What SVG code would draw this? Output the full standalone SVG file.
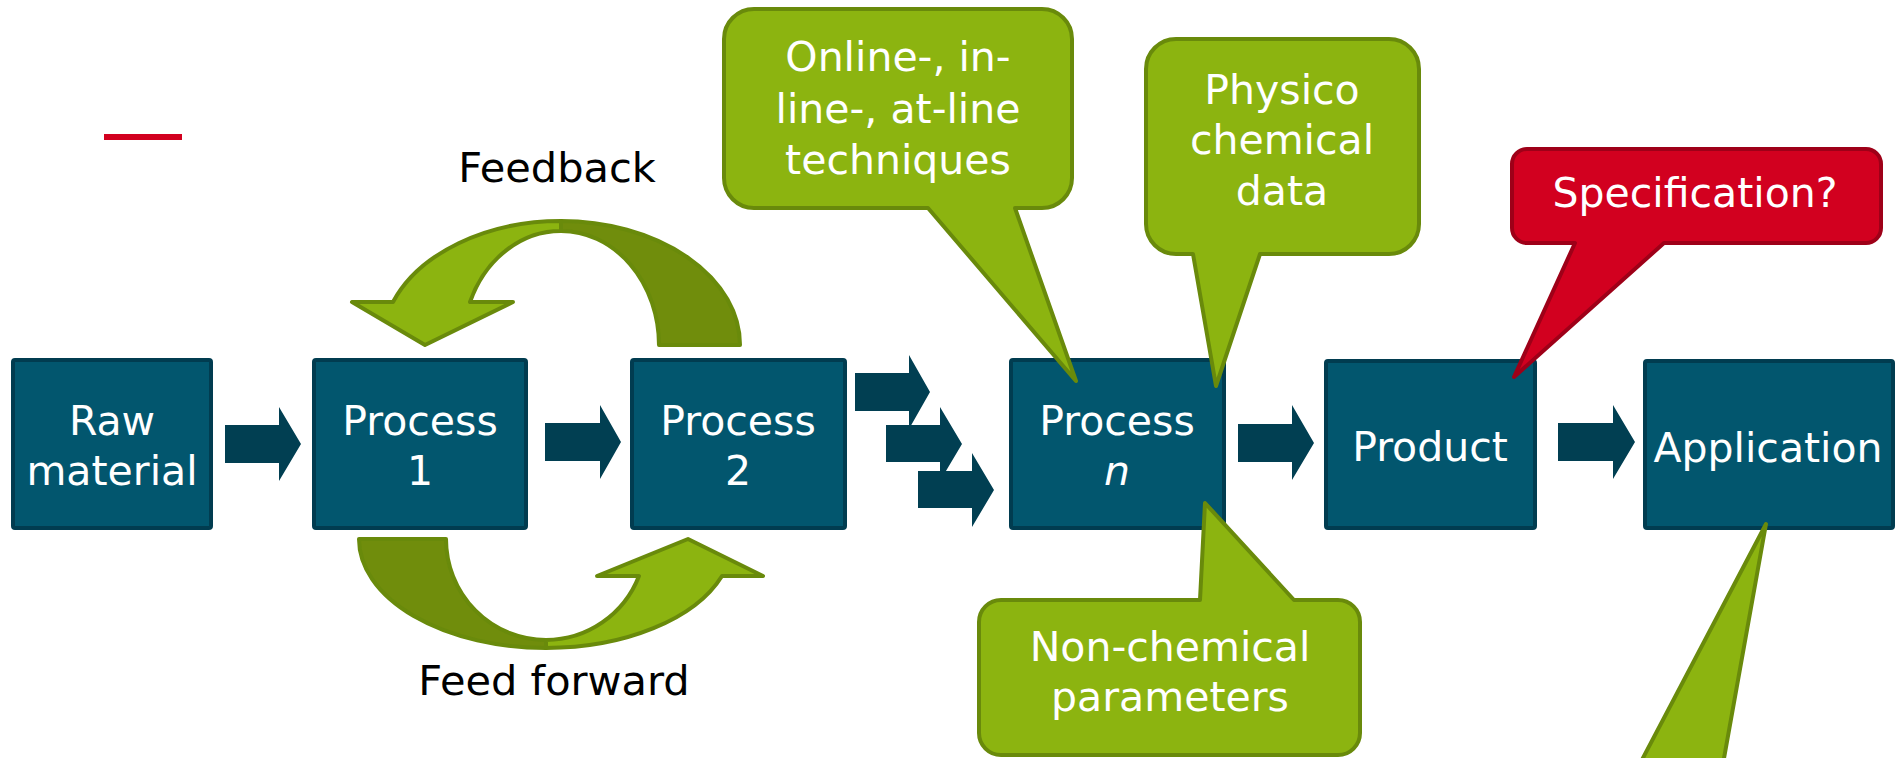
<svg xmlns="http://www.w3.org/2000/svg" width="1901" height="758" viewBox="0 0 1901 758">
<style>
.box{fill:#02566e;stroke:#013c50;stroke-width:4}
.bt{font-family:"DejaVu Sans",Verdana,sans-serif;font-size:41px;fill:#ffffff;text-anchor:middle}
.lt{font-family:"DejaVu Sans",Verdana,sans-serif;font-size:41.5px;fill:#000000;text-anchor:middle}
.arr{fill:#013f52}
.gl{fill:#8cb410;stroke:#698a0b;stroke-width:4;stroke-linejoin:round}
.gd{fill:#708d0c;stroke:#698a0b;stroke-width:4;stroke-linejoin:round}
.rd{fill:#d2001f;stroke:#9e0018;stroke-width:4;stroke-linejoin:round}
</style>
<rect x="104" y="134" width="78" height="6" fill="#d2001f"/>

<g id="connectors">
<polygon class="arr" points="225,425 279,425 279,407 301,444 279,481 279,463 225,463"/>
<polygon class="arr" points="545,423 600,423 600,405 621,442 600,479 600,461 545,461"/>
<polygon class="arr" points="855,373 909,373 909,355 930,392 909,429 909,411 855,411"/>
<polygon class="arr" points="886,425 940,425 940,407 962,444 940,481 940,462 886,462"/>
<polygon class="arr" points="918,471 972,471 972,453 994,490 972,527 972,508 918,508"/>
<polygon class="arr" points="1238,424 1292,424 1292,405 1314,443 1292,480 1292,462 1238,462"/>
<polygon class="arr" points="1558,423 1613,423 1613,405 1635,442 1613,479 1613,461 1558,461"/>
</g>

<g id="feedback">
<path class="gd" d="M561,221 A179,124 0 0 1 740,345 L659,345 A98,114 0 0 0 561,231 Z"/>
<path class="gl" d="M561,231 A98,114 0 0 0 470,302 L513,302 L425,345 L352,302 L393,302 A179,124 0 0 1 561,221 Z"/>
<text class="lt" x="557" y="182">Feedback</text>
</g>

<g id="feedforward">
<path class="gd" d="M359,539 L446,539 A100,101 0 0 0 546,640 L546,648 A187,109 0 0 1 359,539 Z"/>
<path class="gl" d="M546,640 A100,101 0 0 0 639,576 L597,576 L688,539 L763,576 L722,576 A187,109 0 0 1 546,648 Z"/>
<text class="lt" x="554" y="695">Feed forward</text>
</g>

<g id="raw">
<rect class="box" x="13" y="360" width="198" height="168" rx="2"/>
<text class="bt" x="112" y="435">Raw</text>
<text class="bt" x="112" y="485">material</text>
</g>
<g id="process1">
<rect class="box" x="314" y="360" width="212" height="168" rx="2"/>
<text class="bt" x="420" y="435">Process</text>
<text class="bt" x="420" y="485">1</text>
</g>
<g id="process2">
<rect class="box" x="632" y="360" width="213" height="168" rx="2"/>
<text class="bt" x="738" y="435">Process</text>
<text class="bt" x="738" y="485">2</text>
</g>
<g id="processn">
<rect class="box" x="1011" y="360" width="213" height="168" rx="2"/>
<text class="bt" x="1117" y="435">Process</text>
<text class="bt" x="1117" y="485" font-style="italic">n</text>
</g>
<g id="product">
<rect class="box" x="1326" y="361" width="209" height="167" rx="2"/>
<text class="bt" x="1430" y="461">Product</text>
</g>
<g id="application">
<rect class="box" x="1645" y="361" width="248" height="167" rx="2"/>
<text class="bt" x="1768" y="462">Application</text>
</g>

<g id="callout-online">
<path class="gl" d="M754,9 H1042 A30,30 0 0 1 1072,39 V178 A30,30 0 0 1 1042,208 H1015 L1076,381 L928,208 H754 A30,30 0 0 1 724,178 V39 A30,30 0 0 1 754,9 Z"/>
<text class="bt" x="898" y="71">Online-, in-</text>
<text class="bt" x="898" y="123">line-, at-line</text>
<text class="bt" x="898" y="174">techniques</text>
</g>
<g id="callout-physico">
<path class="gl" d="M1176,39 H1389 A30,30 0 0 1 1419,69 V224 A30,30 0 0 1 1389,254 H1260 L1216,386 L1193,254 H1176 A30,30 0 0 1 1146,224 V69 A30,30 0 0 1 1176,39 Z"/>
<text class="bt" x="1282" y="104">Physico</text>
<text class="bt" x="1282" y="154">chemical</text>
<text class="bt" x="1282" y="205">data</text>
</g>
<g id="callout-spec">
<path class="rd" d="M1527,149 H1866 A15,15 0 0 1 1881,164 V228 A15,15 0 0 1 1866,243 H1664 L1514,377 L1575,243 H1527 A15,15 0 0 1 1512,228 V164 A15,15 0 0 1 1527,149 Z"/>
<text class="bt" x="1695" y="207" font-size="42.5px">Specification?</text>
</g>
<g id="callout-nonchem">
<path class="gl" d="M1001,600 H1200 L1205,503 L1294,600 H1338 A22,22 0 0 1 1360,622 V733 A22,22 0 0 1 1338,755 H1001 A22,22 0 0 1 979,733 V622 A22,22 0 0 1 1001,600 Z"/>
<text class="bt" x="1170" y="661">Non-chemical</text>
<text class="bt" x="1170" y="711">parameters</text>
</g>
<g id="callout-application">
<polygon class="gl" points="1766,524 1721,775 1634,775"/>
</g>
</svg>
